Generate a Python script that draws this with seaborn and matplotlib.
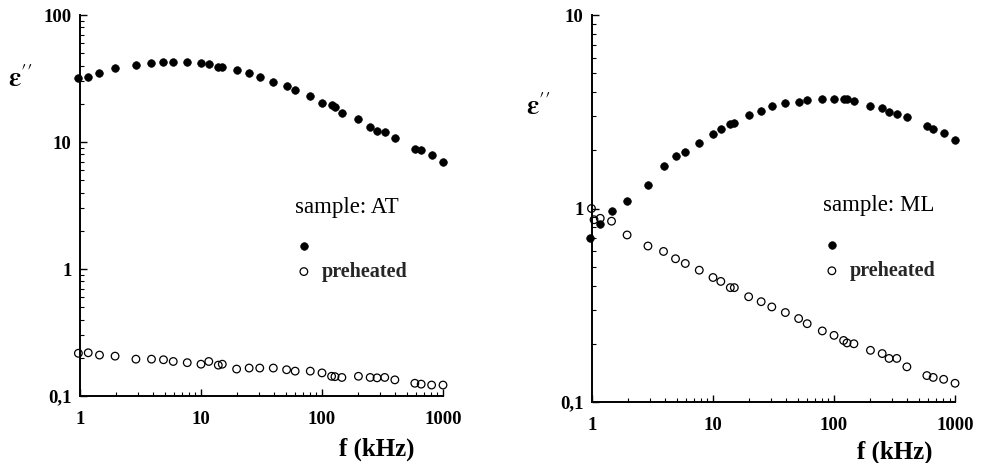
import numpy as np
import pandas as pd
import seaborn as sns
import matplotlib.pyplot as plt
from matplotlib.ticker import LogLocator, NullFormatter

# measurement frequencies in kHz
freq = [0.97, 1.17, 1.45, 1.95, 2.9, 3.9, 4.9, 5.9, 7.7, 10, 11.6, 13.9, 15, 19.7, 25,
        30.6, 39.6, 51, 60, 80, 100, 120, 128, 146, 200, 250, 285, 330, 400, 585, 660, 805, 1000]
freq_ml_pre = [0.99, 1.04, 1.17, 1.45, 1.95, 2.9, 3.9, 4.9, 5.9, 7.7, 10, 11.6, 13.9, 15, 19.7, 25,
               30.6, 39.6, 51, 60, 80, 100, 120, 128, 146, 200, 250, 285, 330, 400, 585, 660, 805, 1000]

# sample AT
eps_at = [32.1, 32.7, 35.2, 38.0, 40.4, 41.7, 42.9, 42.9, 42.9, 41.7, 40.9, 39.2, 39.2, 36.9, 34.7,
          32.7, 29.9, 27.6, 25.7, 23.0, 20.4, 19.6, 18.8, 16.8, 15.1, 13.2, 12.2, 11.9, 10.8, 8.76, 8.7, 7.9, 7.0]
eps_at_pre = [0.217, 0.219, 0.210, 0.206, 0.195, 0.195, 0.193, 0.187, 0.183, 0.178, 0.187, 0.175, 0.178,
              0.163, 0.166, 0.166, 0.166, 0.161, 0.157, 0.157, 0.152, 0.143, 0.142, 0.140, 0.143, 0.140,
              0.139, 0.140, 0.134, 0.126, 0.124, 0.122, 0.122]

# sample ML
eps_ml = [0.70, 0.83, 0.97, 1.10, 1.32, 1.66, 1.87, 1.96, 2.19, 2.42, 2.57, 2.72, 2.77, 3.04, 3.18,
          3.38, 3.50, 3.57, 3.64, 3.70, 3.66, 3.66, 3.66, 3.59, 3.38, 3.31, 3.16, 3.09, 2.98, 2.67, 2.57, 2.46, 2.25]
eps_ml_pre = [1.0, 0.875, 0.89, 0.86, 0.73, 0.64, 0.60, 0.55, 0.52, 0.48, 0.44, 0.42, 0.39, 0.39, 0.35,
              0.33, 0.31, 0.29, 0.27, 0.254, 0.233, 0.221, 0.208, 0.202, 0.200, 0.185, 0.178, 0.168,
              0.168, 0.152, 0.137, 0.134, 0.131, 0.125]

x_ticks = [1, 10, 100, 1000]
x_labels = ['1', '10', '100', '1000']
y_ticks_at = [0.1, 1, 10, 100]
y_labels_at = ['0,1', '1', '10', '100']
y_ticks_ml = [0.1, 1, 10]
y_labels_ml = ['0,1', '1', '10']

sns.set_theme(style='ticks')
plt.rcParams['font.family'] = ['Liberation Serif', 'DejaVu Serif']
plt.rcParams['mathtext.fontset'] = 'stix'

fig = plt.figure(figsize=(9.86, 4.63), dpi=100)
ax1 = fig.add_axes([0.0811, 0.1447, 0.3682, 0.8229])
ax2 = fig.add_axes([0.6004, 0.1317, 0.3682, 0.8359])


def panel(ax, f1, y1, f2, y2, yticks, ylabels, ylim, name, title_xy, leg_xy, ylab_xy, xlab_xy):
    d1 = pd.DataFrame({'f': f1, 'eps': y1})
    d2 = pd.DataFrame({'f': f2, 'eps': y2})
    sns.scatterplot(data=d1, x='f', y='eps', ax=ax, color='black', s=30,
                    edgecolor='black', linewidth=0.5, clip_on=False, zorder=3)
    sns.scatterplot(data=d2, x='f', y='eps', ax=ax, facecolors='none', edgecolor='black',
                    s=30, linewidth=0.9, clip_on=False, zorder=3)
    ax.set_xscale('log')
    ax.set_yscale('log')
    ax.set_xlim(1, 1000)
    ax.set_ylim(*ylim)
    sns.despine(ax=ax)
    for sp in ['left', 'bottom']:
        ax.spines[sp].set_linewidth(1.4)
        ax.spines[sp].set_color('black')
    ax.set_xticks(x_ticks, x_labels)
    ax.set_yticks(yticks, ylabels)
    ax.xaxis.set_minor_locator(LogLocator(base=10, subs=np.arange(2, 10)))
    ax.yaxis.set_minor_locator(LogLocator(base=10, subs=np.arange(2, 10)))
    ax.xaxis.set_minor_formatter(NullFormatter())
    ax.yaxis.set_minor_formatter(NullFormatter())
    ax.tick_params(which='major', direction='in', length=5, width=1, color='black')
    ax.tick_params(which='minor', direction='in', length=3, width=0.8, color='black')
    ax.tick_params(axis='x', which='major', pad=11)
    ax.tick_params(axis='y', which='major', pad=6)
    for lab in ax.get_xticklabels() + ax.get_yticklabels():
        lab.set_fontsize(13.5)
        lab.set_fontweight('bold')
        lab.set_color('black')
    ax.set_xlabel('f (kHz)', fontsize=18, fontweight='bold', color='black')
    ax.xaxis.set_label_coords(*xlab_xy)
    ax.set_ylabel(r"$\mathbf{\varepsilon}''$", rotation=0, fontsize=20, color='black')
    ax.yaxis.set_label_coords(*ylab_xy)
    ax.text(title_xy[0], title_xy[1], name, transform=ax.transAxes, fontsize=16.5,
            ha='left', va='baseline', color='black')
    handles = ax.collections[:2]
    ax.legend(handles=handles, labels=[' ', 'preheated'], loc='center left',
              bbox_to_anchor=leg_xy, frameon=False, borderpad=0, borderaxespad=0,
              handlelength=1.0, handletextpad=0.4, labelspacing=0.3, markerscale=1.0,
              prop={'weight': 'bold', 'size': 14.5})


panel(ax1, freq, eps_at, freq, eps_at_pre, y_ticks_at, y_labels_at, (0.1, 100),
      'sample: AT', (0.592, 0.480), (0.589, 0.36), (-0.165, 0.795), (0.818, -0.11))
panel(ax2, freq, eps_ml, freq_ml_pre, eps_ml_pre, y_ticks_ml, y_labels_ml, (0.1, 10),
      'sample: ML', (0.636, 0.494), (0.633, 0.372), (-0.149, 0.726), (0.835, -0.10))

fig.savefig('out.png', dpi=100, facecolor='white')
